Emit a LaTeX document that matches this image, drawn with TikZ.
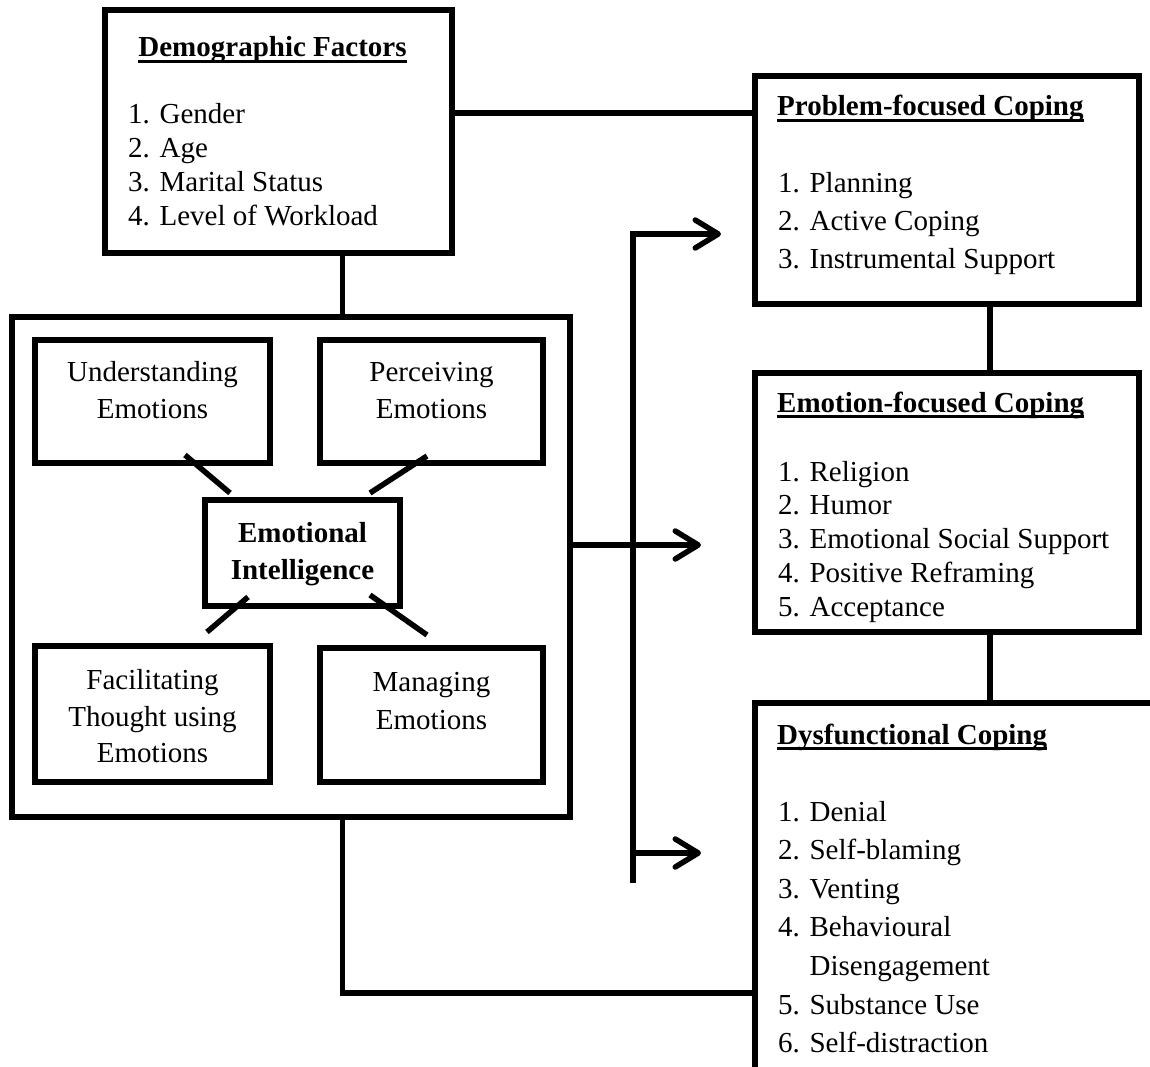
\documentclass[tikz,border=0pt]{standalone}
\usepackage{fontspec}
\setmainfont{Liberation Serif}
\usetikzlibrary{arrows.meta}
\newsavebox\titrebox
\newcommand{\titre}[1]{\sbox\titrebox{\textbf{#1}}\rlap{\rule[-6pt]{\wd\titrebox}{2.6pt}}\usebox\titrebox}

\begin{document}
\begin{tikzpicture}[line join=miter,x=1pt,y=-1pt,>={Straight Barb[round,length=23pt,width=28pt]},
	box/.style={draw,line width=5.5pt,inner sep=0pt,outer sep=0pt},
	lien/.style={line width=5.5pt},
	every node/.style={font=\fontsize{29}{35}\selectfont},
	txt/.style={anchor=base west,inner sep=0pt},
	ctr/.style={anchor=base,inner sep=0pt}]
	\useasboundingbox (0,0) rectangle (1150,1067);
	\clip (0,0) rectangle (1150,1067);
	% Facteurs
	\node[box,minimum width=347,minimum height=243] (demo) at (278.5,131.5) {};
	\node[ctr] (demot) at (272.5,57) {\titre{Demographic Factors}};
	\foreach \t [count=\i from 0] in {1. Gender, 2. Age, 3. Marital Status, 4. Level of Workload}
		\node[txt] (demo\i) at (128,{124+33.7*\i}) {\t};
	% Intelligence emotionnelle
	\node[box,minimum width=558,minimum height=500] (ei) at (291,567) {};
	\node[box,minimum width=235,minimum height=123] (und) at (152.5,401.5) {};
	\node[box,minimum width=223,minimum height=123] (per) at (431.5,401.5) {};
	\node[box,minimum width=195,minimum height=106] (emo) at (302.5,553) {};
	\node[box,minimum width=235,minimum height=136] (fac) at (152.5,714) {};
	\node[box,minimum width=223,minimum height=134] (man) at (431.5,715) {};
	\node[ctr] (und1) at (152.5,381) {Understanding};
	\node[ctr] (und2) at (152.5,418) {Emotions};
	\node[ctr] (per1) at (431.5,381) {Perceiving};
	\node[ctr] (per2) at (431.5,418) {Emotions};
	\node[ctr] (emo1) at (302.5,542) {\textbf{Emotional}};
	\node[ctr] (emo2) at (302.5,579) {\textbf{Intelligence}};
	\node[ctr] (fac1) at (152.5,689) {Facilitating};
	\node[ctr] (fac2) at (152.5,726) {Thought using};
	\node[ctr] (fac3) at (152.5,762) {Emotions};
	\node[ctr] (man1) at (431.5,691) {Managing};
	\node[ctr] (man2) at (431.5,729) {Emotions};
	% Coping
	\node[box,minimum width=384,minimum height=228] (pfc) at (947,190) {};
	\node[txt] (pfct) at (777,116) {\titre{Problem-focused Coping}};
	\foreach \t [count=\i from 0] in {1. Planning, 2. Active Coping, 3. Instrumental Support}
		\node[txt] (pfc\i) at (778,{193+38*\i}) {\t};
	\node[box,minimum width=384,minimum height=259] (efc) at (947,502.5) {};
	\node[txt] (efct) at (777,412) {\titre{Emotion-focused Coping}};
	\foreach \t [count=\i from 0] in {1. Religion, 2. Humor, 3. Emotional Social Support, 4. Positive Reframing, 5. Acceptance}
		\node[txt] (efc\i) at (778,{481+33.8*\i}) {\t};
	\node[box,anchor=north west,minimum width=450,minimum height=450] (dc) at (755,703) {};
	\node[txt] (dct) at (777,744) {\titre{Dysfunctional Coping}};
	\foreach \t [count=\i from 0] in {1. Denial, 2. Self-blaming, 3. Venting, 4. Behavioural, \phantom{4. }Disengagement, 5. Substance Use, 6. Self-distraction}
		\node[txt] (dc\i) at (778,{821+38.6*\i}) {\t};
	% liens
	\draw[lien] ([yshift=18.5]demo.east) -- ([yshift=18.5]demo.east -| pfc.west);
	\draw[lien] ([xshift=64]demo.south) -- ([xshift=64]demo.south |- ei.north);
	\draw[lien] ([xshift=43]pfc.south) -- ([xshift=43]efc.north);
	\draw[lien] ([xshift=43]efc.south) -- ([xshift=43]efc.south |- dc.north);
	\draw[lien] ([xshift=51.5]ei.south) |- ([yshift=-290]dc.north west);
	\draw[lien] ([xshift=32.5,yshift=8]und.south) -- ([xshift=25,yshift=7]emo.north west);
	\draw[lien] ([xshift=-4.5,yshift=7]per.south) -- ([xshift=-30,yshift=7]emo.north east);
	\draw[lien] ([xshift=43,yshift=9]emo.south west) -- ([xshift=54.5,yshift=14]fac.north);
	\draw[lien] ([xshift=-30,yshift=11]emo.south east) -- ([xshift=-4.5,yshift=13]man.north);
	% fleches
	\coordinate (bustop) at (633,234);
	\coordinate (busbot) at (633,883);
	\coordinate (tip1) at (721,234);
	\coordinate (tip2) at (701,545);
	\coordinate (tip3) at (701,853);
	\draw[lien,->] (busbot) -- (bustop) -- (tip1);
	\draw[lien,->] (ei.east |- tip2) -- (tip2);
	\draw[lien,->] (bustop |- tip3) -- (tip3);
\end{tikzpicture}
\end{document}
